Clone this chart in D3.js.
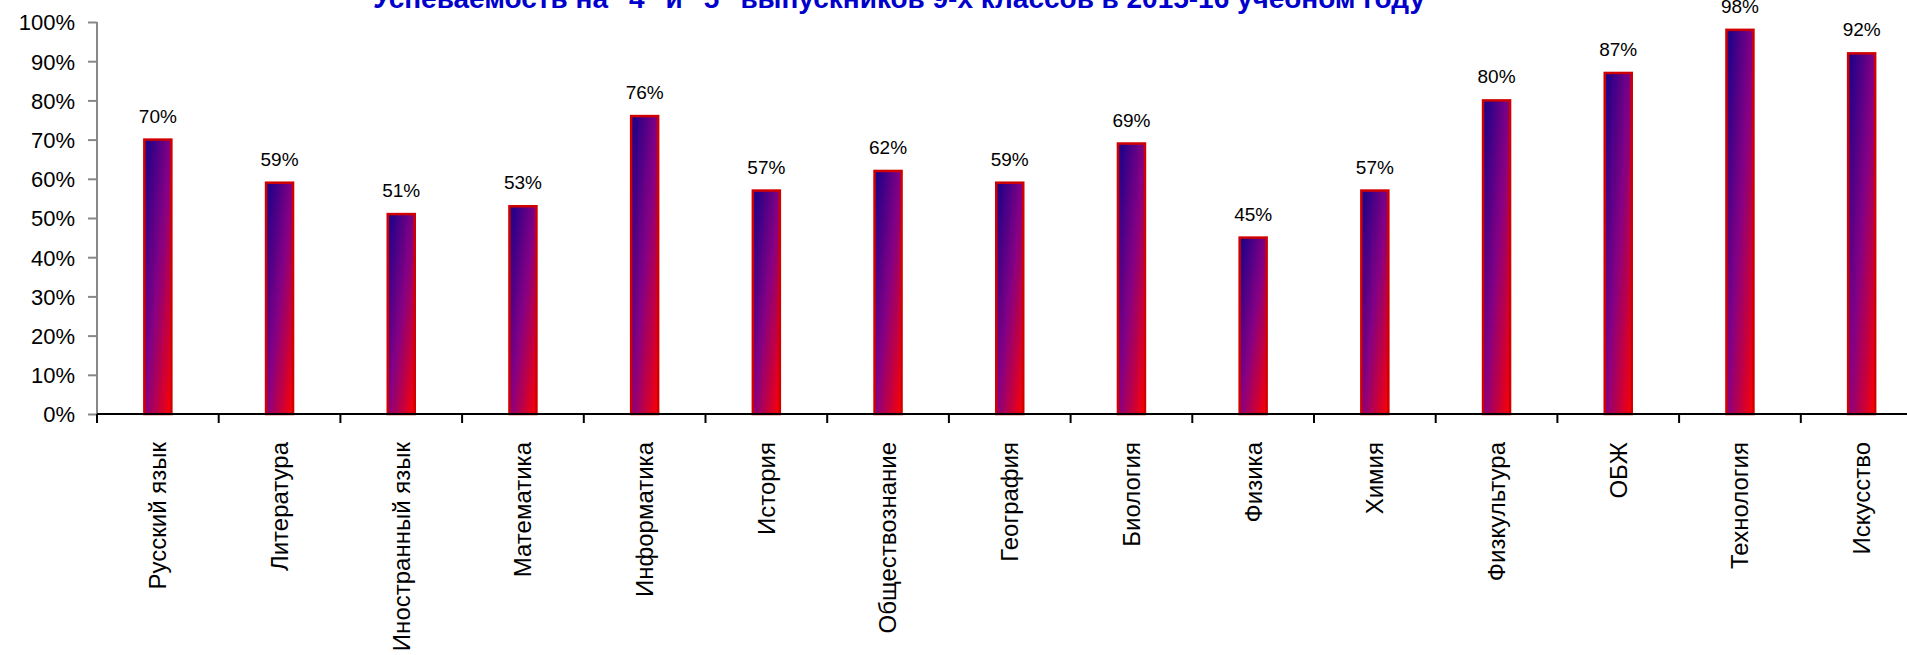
<!DOCTYPE html>
<html lang="ru">
<head>
<meta charset="utf-8">
<title>Успеваемость</title>
<script src="https://d3js.org/d3.v7.min.js"></script>
<style>
  body { margin: 0; background: #fff; }
  .title { font-family: "Liberation Sans", sans-serif; font-weight: bold; fill: #0000cc; }
  .tick text { font-family: "Liberation Sans", sans-serif; fill: #000; }
  .val { font-family: "Liberation Sans", sans-serif; font-size: 19px; fill: #000; }
</style>
</head>
<body>
<script>
var subjects = ['Русский язык', 'Литература', 'Иностранный язык', 'Математика', 'Информатика',
  'История', 'Обществознание', 'География', 'Биология', 'Физика', 'Химия', 'Физкультура',
  'ОБЖ', 'Технология', 'Искусство'];
var percents = [70, 59, 51, 53, 76, 57, 62, 59, 69, 45, 57, 80, 87, 98, 92];
var yTicks = [0, 10, 20, 30, 40, 50, 60, 70, 80, 90, 100];

var width = 1907, height = 655;
var plotLeft = 97, plotTop = 22, plotBottom = 414;
var step = 121.7;

var svg = d3.select('body').append('svg')
  .attr('width', width)
  .attr('height', height);

var defs = svg.append('defs');
var grad = defs.append('linearGradient')
  .attr('id', 'barFill')
  .attr('x1', 0).attr('y1', 0).attr('x2', 1).attr('y2', 1);
grad.append('stop').attr('offset', '0%').attr('stop-color', '#140088');
grad.append('stop').attr('offset', '50%').attr('stop-color', '#850084');
grad.append('stop').attr('offset', '100%').attr('stop-color', '#ff0000');

var x = d3.scaleBand()
  .domain(subjects)
  .range([plotLeft, plotLeft + step * subjects.length])
  .padding(0);

var y = d3.scaleLinear()
  .domain([0, 100])
  .range([plotBottom, plotTop]);

// title (cut at the top like the original)
svg.append('text')
  .attr('class', 'title')
  .attr('x', 899)
  .attr('y', 8)
  .attr('text-anchor', 'middle')
  .attr('font-size', 27)
  .attr('textLength', 1052)
  .attr('lengthAdjust', 'spacingAndGlyphs')
  .text('Успеваемость на "4" и "5" выпускников 9-х классов в 2015-16 учебном году');

// y axis
var yAxis = svg.append('g')
  .attr('transform', 'translate(' + plotLeft + ',0)')
  .call(d3.axisLeft(y).tickValues(yTicks).tickSize(9).tickPadding(13)
    .tickFormat(function(d){ return d + '%'; }));
yAxis.selectAll('path, line').attr('stroke', '#888').attr('stroke-width', 2);
yAxis.select('.domain').attr('d', 'M0,' + plotTop + 'V' + plotBottom);
yAxis.selectAll('text').attr('font-size', 22).attr('dy', '0.36em');

// bars
var bw = 27;
svg.selectAll('.bar')
  .data(percents)
  .enter()
  .append('rect')
  .attr('class', 'bar')
  .attr('x', function(d, i){ return x(subjects[i]) + x.bandwidth() / 2 - bw / 2; })
  .attr('y', function(d){ return y(d); })
  .attr('width', bw)
  .attr('height', function(d){ return plotBottom - y(d); })
  .attr('fill', 'url(#barFill)')
  .attr('stroke', '#d00000')
  .attr('stroke-width', 2.5);

// value labels
svg.selectAll('.val')
  .data(percents)
  .enter()
  .append('text')
  .attr('class', 'val')
  .attr('x', function(d, i){ return x(subjects[i]) + x.bandwidth() / 2; })
  .attr('y', function(d){ return y(d) - 17; })
  .attr('text-anchor', 'middle')
  .text(function(d){ return d + '%'; });

// x axis
var xAxis = svg.append('g')
  .attr('transform', 'translate(0,' + plotBottom + ')');
xAxis.append('line')
  .attr('x1', plotLeft).attr('x2', width)
  .attr('stroke', '#000').attr('stroke-width', 2);
xAxis.selectAll('.sep')
  .data(subjects)
  .enter()
  .append('line')
  .attr('class', 'sep')
  .attr('x1', function(d){ return x(d); })
  .attr('x2', function(d){ return x(d); })
  .attr('y1', 0).attr('y2', 9)
  .attr('stroke', '#000').attr('stroke-width', 2);
xAxis.selectAll('.lbl')
  .data(subjects)
  .enter()
  .append('text')
  .attr('class', 'lbl')
  .attr('transform', function(d){
    return 'translate(' + (x(d) + x.bandwidth() / 2) + ',28) rotate(-90)';
  })
  .attr('text-anchor', 'end')
  .attr('dy', '0.35em')
  .attr('font-family', 'Liberation Sans, sans-serif')
  .attr('font-size', 24)
  .text(function(d){ return d; });
</script>
</body>
</html>
